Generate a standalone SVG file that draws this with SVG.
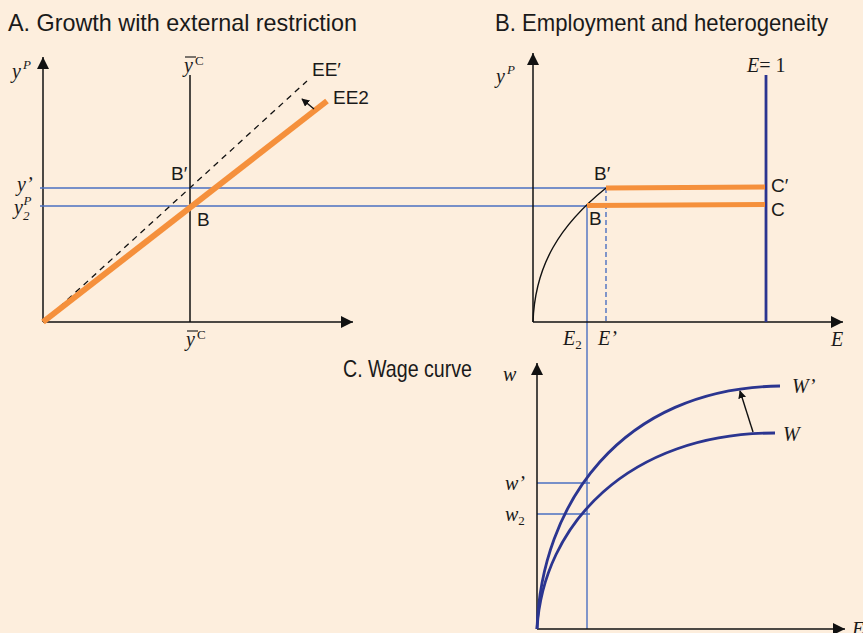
<svg xmlns="http://www.w3.org/2000/svg" width="863" height="633" viewBox="0 0 863 633">
<style>
.title{font-family:"Liberation Sans",Arial,sans-serif;font-size:24px;fill:#1a1a1a}
.lab{font-family:"Liberation Sans",Arial,sans-serif;font-size:19px;fill:#1a1a1a}
.math{font-family:"Liberation Serif","Times New Roman",serif;font-style:italic;font-size:20px;fill:#1a1a1a}
.sub{font-size:13px}
.ax{stroke:#111;stroke-width:1.5;fill:none}
.blue{stroke:#4a6fc1;stroke-width:1.4;fill:none}
.orange{stroke:#f5903c;fill:none}
.navy{stroke:#2b3590;fill:none;stroke-width:2.8}
</style>
<defs>
<marker id="ah" markerWidth="12" markerHeight="12" refX="10" refY="5" orient="auto" markerUnits="userSpaceOnUse" viewBox="0 0 10 10">
<path d="M0,0 L10,5 L0,10 z" fill="#111"/>
</marker>
<marker id="sa" markerWidth="8" markerHeight="8" refX="9" refY="5" orient="auto" markerUnits="userSpaceOnUse" viewBox="0 0 10 10">
<path d="M0,0 L10,5 L0,10 z" fill="#111"/>
</marker>
</defs>
<rect width="863" height="633" fill="#fdeedd"/>
<g id="titles">
<text class="title" x="8" y="31" textLength="349" lengthAdjust="spacingAndGlyphs">A. Growth with external restriction</text>
<text class="title" x="495" y="31" textLength="333" lengthAdjust="spacingAndGlyphs">B. Employment and heterogeneity</text>
<text class="title" x="343" y="377" textLength="129" lengthAdjust="spacingAndGlyphs">C. Wage curve</text>
</g>
<g id="connectors">
<!-- Panel A axes -->
<line class="ax" x1="43" y1="322" x2="43" y2="57" marker-end="url(#ah)"/>
<line class="ax" x1="43" y1="322" x2="353" y2="322" marker-end="url(#ah)"/>
<line class="ax" x1="190" y1="75" x2="190" y2="322"/>
<!-- blue guides -->
<line class="blue" x1="40" y1="188" x2="606" y2="188"/>
<line class="blue" x1="40" y1="206" x2="587" y2="206"/>
<line class="blue" x1="587" y1="206" x2="587" y2="629"/>
<line class="blue" x1="606" y1="188" x2="606" y2="322" stroke-dasharray="5,3"/>
<line class="blue" x1="537" y1="483" x2="590" y2="483"/>
<line class="blue" x1="537" y1="514" x2="590" y2="514"/>
<!-- EE' dashed and EE2 orange -->
<line x1="43" y1="322" x2="307" y2="81" stroke="#111" stroke-width="1.3" stroke-dasharray="6,5"/>
<line class="orange" x1="43" y1="322" x2="327" y2="101" stroke-width="6"/>
<line x1="314" y1="109" x2="302" y2="99" stroke="#111" stroke-width="1.4" marker-end="url(#sa)"/>
<!-- Panel B axes -->
<line class="ax" x1="533" y1="322" x2="533" y2="53" marker-end="url(#ah)"/>
<line class="ax" x1="533" y1="322" x2="843" y2="322" marker-end="url(#ah)"/>
<line class="navy" x1="766" y1="75" x2="766" y2="322" stroke-width="3"/>
<path d="M533,322 C535,265 560,225 606,188" stroke="#111" stroke-width="1.4" fill="none"/>
<line class="orange" x1="606" y1="188" x2="765" y2="187" stroke-width="5"/>
<line class="orange" x1="587" y1="205.5" x2="765" y2="204.5" stroke-width="5"/>
<!-- Panel C axes -->
<line class="ax" x1="537" y1="629" x2="537" y2="363" marker-end="url(#ah)"/>
<line class="ax" x1="537" y1="629" x2="845" y2="629" marker-end="url(#ah)"/>
<path class="navy" d="M537,629 C541,505 620,388 780,386"/>
<path class="navy" d="M537,629 C543,525 628,433 775,433"/>
<line x1="753" y1="432" x2="740" y2="391" stroke="#111" stroke-width="1.4" marker-end="url(#sa)"/>
</g>
<g id="labels-A">
<text class="math" x="12" y="78">y<tspan class="sub" dy="-9" dx="2">P</tspan></text>
<text class="math" x="184" y="72">y<tspan class="sub" dy="-7" dx="2" font-style="normal">C</tspan></text>
<line x1="185" y1="57" x2="196" y2="57" stroke="#111" stroke-width="1.1"/>
<text class="math" x="186" y="346">y<tspan class="sub" dy="-7" dx="2" font-style="normal">C</tspan></text>
<line x1="187" y1="331" x2="198" y2="331" stroke="#111" stroke-width="1.1"/>
<text class="math" x="17" y="191">y’</text>
<text class="math" x="14" y="214">y<tspan class="sub" dy="6">2</tspan><tspan class="sub" dy="-15" dx="-6">P</tspan></text>
<text class="lab" x="171" y="180">B′</text>
<text class="lab" x="197" y="226">B</text>
<text class="lab" x="312" y="76">EE′</text>
<text class="lab" x="333" y="104">EE2</text>
</g>
<g id="labels-B">
<text class="math" x="496" y="83">y<tspan class="sub" dy="-9" dx="2">P</tspan></text>
<text class="math" x="747" y="72">E<tspan font-style="normal">= 1</tspan></text>
<text class="lab" x="594" y="180">B′</text>
<text class="lab" x="589" y="225">B</text>
<text class="lab" x="771" y="192">C′</text>
<text class="lab" x="771" y="216">C</text>
<text class="math" x="563" y="345">E<tspan class="sub" dy="4" font-style="normal" font-size="15">2</tspan></text>
<text class="math" x="598" y="345">E’</text>
<text class="math" x="831" y="346">E</text>
</g>
<g id="labels-C">
<text class="math" x="503" y="381">w</text>
<text class="math" x="505" y="490">w’</text>
<text class="math" x="505" y="521">w<tspan class="sub" dy="4" font-style="normal" font-size="15">2</tspan></text>
<text class="math" x="792" y="393">W’</text>
<text class="math" x="783" y="441">W</text>
<text class="math" x="852" y="636">E</text>
</g>
</svg>
